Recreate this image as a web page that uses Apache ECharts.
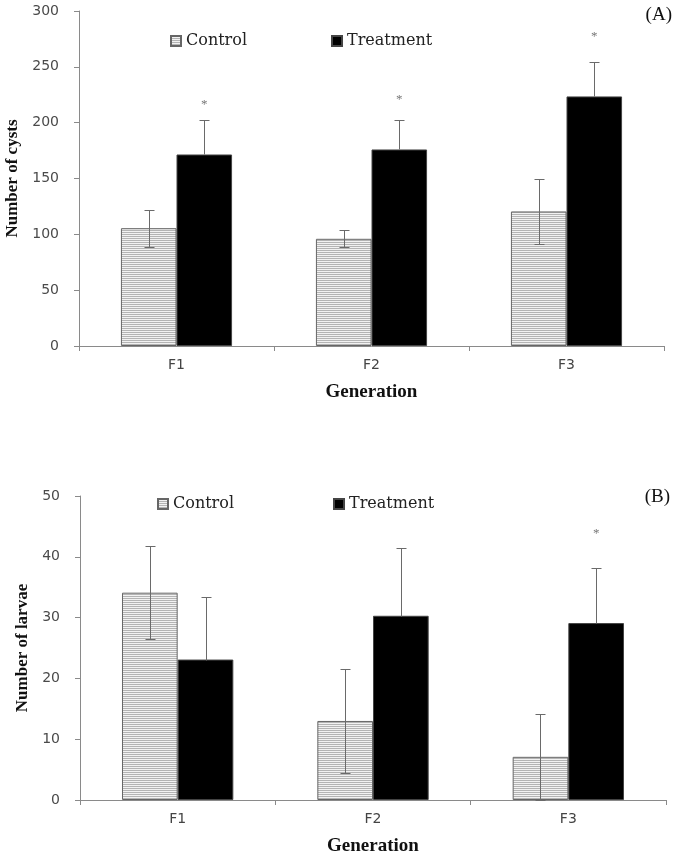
<!DOCTYPE html>
<html><head><meta charset="utf-8">
<script src="https://cdn.jsdelivr.net/npm/echarts@6/dist/echarts.min.js"></script>
<style>html,body{margin:0;padding:0;background:#fff}#c{width:675px;height:856px}</style>
</head><body><div id="c"></div>
<script>
// ---- data ----
const categories = ['F1', 'F2', 'F3'];
const seriesNames = ['Control', 'Treatment'];
// Panel A: number of cysts
const cystsControl = [105.5, 96, 120.5];
const cystsControlErr = [16.5, 7.5, 29.5];
const cystsTreatment = [171.5, 176, 223.5];
const cystsTreatmentErr = [31, 26.5, 30.5];
const cystsSigY = [216, 221, 277];
const cystsTicks = [0, 50, 100, 150, 200, 250, 300];
// Panel B: number of larvae
const larvaeControl = [34.1, 13.0, 7.1];
const larvaeControlErr = [7.6, 8.5, 7.1];
const larvaeTreatment = [23.1, 30.3, 29.1];
const larvaeTreatmentErr = [10.3, 11.2, 9.0];
const larvaeSigY = [null, null, 43.9];
const larvaeTicks = [0, 10, 20, 30, 40, 50];

// ---- styles ----
const BAR_FRAC = 0.285;
const stripe = document.createElement('canvas');
stripe.width = 4; stripe.height = 2;
(function(){
  const g = stripe.getContext('2d');
  g.fillStyle = '#f2f2f2'; g.fillRect(0, 0, 4, 2);
  g.fillStyle = '#b4b4b4'; g.fillRect(0, 0, 4, 1);
})();
const controlColor = { image: stripe, repeat: 'repeat' };

function errRender(sign, upOnly) {
  return function (params, api) {
    const cat = api.value(0), v = api.value(1), e = api.value(2);
    const bw = api.size([1, 0])[0] * BAR_FRAC;
    const cx = Math.round(api.coord([cat, v])[0] + sign * bw / 2) + 0.5;
    const yTop = Math.round(api.coord([cat, v + e])[1]) + 0.5;
    const yBot = Math.round(api.coord([cat, upOnly ? v : v - e])[1]) + 0.5;
    const half = 5;
    const st = { stroke: '#6a6a6a', lineWidth: 1 };
    const ch = [
      { type: 'line', shape: { x1: cx, y1: yTop, x2: cx, y2: yBot }, style: st },
      { type: 'line', shape: { x1: cx - half, y1: yTop, x2: cx + half, y2: yTop }, style: st }
    ];
    if (!upOnly) ch.push({ type: 'line', shape: { x1: cx - half, y1: yBot, x2: cx + half, y2: yBot }, style: st });
    return { type: 'group', children: ch };
  };
}
function sigRender(params, api) {
  const cat = api.value(0), v = api.value(1);
  const bw = api.size([1, 0])[0] * BAR_FRAC;
  const p = api.coord([cat, v]);
  return { type: 'text', x: p[0] + bw / 2, y: p[1],
    style: { text: '*', fill: '#777', font: '13px "Liberation Serif"', align: 'center', verticalAlign: 'middle' } };
}
function triples(vals, errs) { return vals.map((v, i) => [i, v, errs[i]]); }
function sigData(arr) { return arr.map((v, i) => v == null ? null : [i, v]).filter(d => d); }

const axisGrey = '#8a8a8a';
function xAx(gi) {
  return {
    type: 'category', gridIndex: gi, data: categories,
    name: 'Generation', nameLocation: 'middle', nameGap: 37,
    nameTextStyle: { fontFamily: 'Liberation Serif', fontWeight: 'bold', fontSize: 19, color: '#111' },
    axisLine: { lineStyle: { color: axisGrey, width: 1 } },
    axisTick: { show: true, length: 5, lineStyle: { color: axisGrey } },
    axisLabel: { margin: 12, fontFamily: 'DejaVu Sans', fontSize: 14, color: '#444' }
  };
}
function yAx(gi, ticks, name, gap) {
  return {
    type: 'value', gridIndex: gi, min: ticks[0], max: ticks[ticks.length - 1],
    interval: ticks[1] - ticks[0],
    name: name, nameLocation: 'middle', nameGap: gap, nameRotate: 90,
    nameTextStyle: { fontFamily: 'Liberation Serif', fontWeight: 'bold', fontSize: 17, color: '#111' },
    splitLine: { show: false },
    axisLine: { show: true, lineStyle: { color: axisGrey, width: 1 } },
    axisTick: { show: true, length: 5, lineStyle: { color: axisGrey } },
    axisLabel: { margin: 20, fontFamily: 'DejaVu Sans', fontSize: 14, color: '#4a4a4a' }
  };
}
function barS(name, gi, data, color, border) {
  return {
    type: 'bar', name: name, xAxisIndex: gi, yAxisIndex: gi, data: data,
    barWidth: (BAR_FRAC * 100) + '%', barGap: '0%',
    itemStyle: { color: color, borderColor: border, borderWidth: 1 },
    emphasis: { disabled: true }, animation: false
  };
}
function errS(gi, data, sign, upOnly) {
  return { type: 'custom', xAxisIndex: gi, yAxisIndex: gi, data: data, z: 5,
    renderItem: errRender(sign, upOnly), encode: { x: 0, y: 1 }, animation: false, silent: true };
}
function sigS(gi, data) {
  return { type: 'custom', xAxisIndex: gi, yAxisIndex: gi, data: data, z: 5,
    renderItem: sigRender, encode: { x: 0, y: 1 }, animation: false, silent: true };
}
const legendText = { fontFamily: 'DejaVu Serif', fontSize: 16, color: '#222' };

const option = {
  animation: false,
  backgroundColor: '#fff',
  grid: [
    { left: 79, right: 11, top: 11, height: 335, outerBoundsMode: 'none', containLabel: false },
    { left: 80, right: 9, top: 496, height: 304, outerBoundsMode: 'none', containLabel: false }
  ],
  legend: [
    { data: seriesNames, left: 165, top: 28, itemWidth: 10, itemHeight: 10, itemGap: 84, icon: 'rect',
      selectedMode: false, textStyle: legendText },
    { data: seriesNames, left: 152, top: 491, itemWidth: 10, itemHeight: 10, itemGap: 99, icon: 'rect',
      selectedMode: false, textStyle: legendText }
  ],
  graphic: [
    { type: 'text', right: 3, top: 6, style: { text: '(A)', font: '19px "Liberation Serif"', fill: '#111' } },
    { type: 'text', right: 5, top: 488, style: { text: '(B)', font: '19px "Liberation Serif"', fill: '#111' } }
  ],
  xAxis: [xAx(0), xAx(1)],
  yAxis: [yAx(0, cystsTicks, 'Number of cysts', 58), yAx(1, larvaeTicks, 'Number of larvae', 47)],
  series: [
    barS(seriesNames[0], 0, cystsControl, controlColor, '#666'),
    barS(seriesNames[1], 0, cystsTreatment, '#000', '#444'),
    errS(0, triples(cystsControl, cystsControlErr), -1, false),
    errS(0, triples(cystsTreatment, cystsTreatmentErr), 1, true),
    sigS(0, sigData(cystsSigY)),
    barS(seriesNames[0], 1, larvaeControl, controlColor, '#666'),
    barS(seriesNames[1], 1, larvaeTreatment, '#000', '#444'),
    errS(1, triples(larvaeControl, larvaeControlErr), -1, false),
    errS(1, triples(larvaeTreatment, larvaeTreatmentErr), 1, true),
    sigS(1, sigData(larvaeSigY))
  ]
};
const chart = echarts.init(document.getElementById('c'), null, { renderer: 'canvas' });
chart.setOption(option);
</script>
</body></html>
